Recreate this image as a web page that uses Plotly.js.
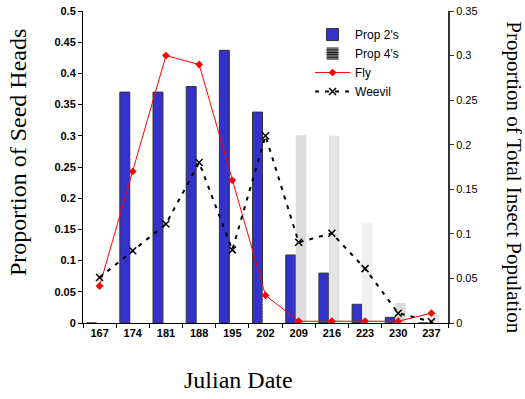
<!DOCTYPE html>
<html>
<head>
<meta charset="utf-8">
<script src="https://cdn.plot.ly/plotly-3.0.1.min.js"></script>
<style>html,body{margin:0;padding:0;background:#fff;}#chart{width:525px;height:399px;}</style>
</head>
<body>
<div id="chart"></div>
<script>
const julianDates = ['167','174','181','188','195','202','209','216','223','230','237'];
const prop2s = [0, 0.37, 0.37, 0.379, 0.437, 0.338, 0.109, 0.08, 0.03, 0.009, 0];
const prop4s = [0, 0, 0, 0, 0, 0.061, 0.301, 0.3, 0.16, 0.032, 0.014];
const fly    = [0.0415, 0.17, 0.30, 0.29, 0.16, 0.031, 0.002, 0.002, 0.002, 0.002, 0.011];
const weevil = [0.051, 0.081, 0.111, 0.180, 0.082, 0.21, 0.0905, 0.1006, 0.061, 0.011, 0.0015];

// styles for the patterned "Prop 4's" bars (rendered greys in original)
const prop4Colors = ['#ffffff','#ffffff','#ffffff','#ffffff','#ffffff','#ffffff','#dcdcdc','#e4e4e4','#f0f0f0','#dcdcdc','#e6e6e6'];
const prop4Shapes = ['-','','','','','-','','','','',''];

const tickFontBold = {family: 'Liberation Sans, Arial, sans-serif', size: 11, color: '#000', weight: 'bold'};
const tickFont = {family: 'Liberation Sans, Arial, sans-serif', size: 11, color: '#000'};
const serif = 'Liberation Serif, Times New Roman, serif';

const traces = [
  {
    type: 'bar', name: "Prop 2's", x: julianDates, y: prop2s,
    offset: -0.39, width: 0.3,
    marker: {color: '#3333cc', line: {color: '#333333', width: 1}},
    xaxis: 'x', yaxis: 'y'
  },
  {
    type: 'bar', name: "Prop 4's", x: julianDates, y: prop4s,
    offset: -0.09, width: 0.32,
    marker: {color: prop4Colors, line: {width: 0},
      pattern: {shape: prop4Shapes, fgcolor: '#000', bgcolor: '#ffffff', size: 3, solidity: 0.7}},
    xaxis: 'x', yaxis: 'y'
  },
  {
    type: 'scatter', mode: 'lines+markers', name: 'Fly', x: julianDates, y: fly,
    line: {color: '#ff0000', width: 1},
    marker: {symbol: 'diamond', size: 6, color: '#ff0000'},
    xaxis: 'x', yaxis: 'y2'
  },
  {
    type: 'scatter', mode: 'lines+markers', name: 'Weevil', x: julianDates, y: weevil,
    line: {color: '#000', width: 2, dash: '4px,6px'},
    marker: {symbol: 'x-thin-open', size: 7, color: '#000', line: {color: '#000', width: 1.5}},
    xaxis: 'x', yaxis: 'y2'
  }
];

const layout = {
  width: 525, height: 399,
  margin: {l: 83, r: 77, t: 11, b: 76},
  paper_bgcolor: '#fff', plot_bgcolor: '#fff',
  barmode: 'overlay',
  showlegend: true,
  legend: {
    x: 0.622, y: 0.971, xanchor: 'left', yanchor: 'top',
    bgcolor: 'rgba(0,0,0,0)', font: {family: 'Liberation Sans, Arial, sans-serif', size: 12, color: '#000'},
    itemwidth: 35, tracegroupgap: 0, traceorder: 'normal'
  },
  xaxis: {
    type: 'category', range: [-0.5, 10.5],
    tickson: 'boundaries', ticks: 'outside', ticklen: 4, tickcolor: '#000', tickwidth: 1,
    showline: true, linecolor: '#000', linewidth: 1,
    showgrid: false, zeroline: false, tickfont: tickFontBold, fixedrange: true
  },
  yaxis: {
    range: [0, 0.5], dtick: 0.05, tick0: 0,
    ticks: 'outside', ticklen: 4, tickcolor: '#000',
    showline: true, linecolor: '#000', linewidth: 1,
    showgrid: false, zeroline: false, tickfont: tickFontBold
  },
  yaxis2: {
    overlaying: 'y', side: 'right', range: [0, 0.35], dtick: 0.05, tick0: 0,
    ticks: 'outside', ticklen: 4, tickcolor: '#333',
    showline: true, linecolor: '#333', linewidth: 2,
    showgrid: false, zeroline: false, tickfont: tickFont
  },
  annotations: [
    {text: 'Proportion of Seed Heads', xref: 'paper', yref: 'paper', x: -0.1781, y: 0.548,
     xanchor: 'center', yanchor: 'middle', textangle: -90, showarrow: false,
     font: {family: serif, size: 24, color: '#000'}},
    {text: 'Proportion of Total Insect Population', xref: 'paper', yref: 'paper', x: 1.18, y: 0.468,
     xanchor: 'center', yanchor: 'middle', textangle: 90, showarrow: false,
     font: {family: serif, size: 21, color: '#000'}},
    {text: 'Julian Date', xref: 'paper', yref: 'paper', x: 0.427, y: -0.183,
     xanchor: 'center', yanchor: 'middle', showarrow: false,
     font: {family: serif, size: 24, color: '#000'}}
  ]
};

Plotly.newPlot('chart', traces, layout, {staticPlot: true, displayModeBar: false});
</script>
</body>
</html>
